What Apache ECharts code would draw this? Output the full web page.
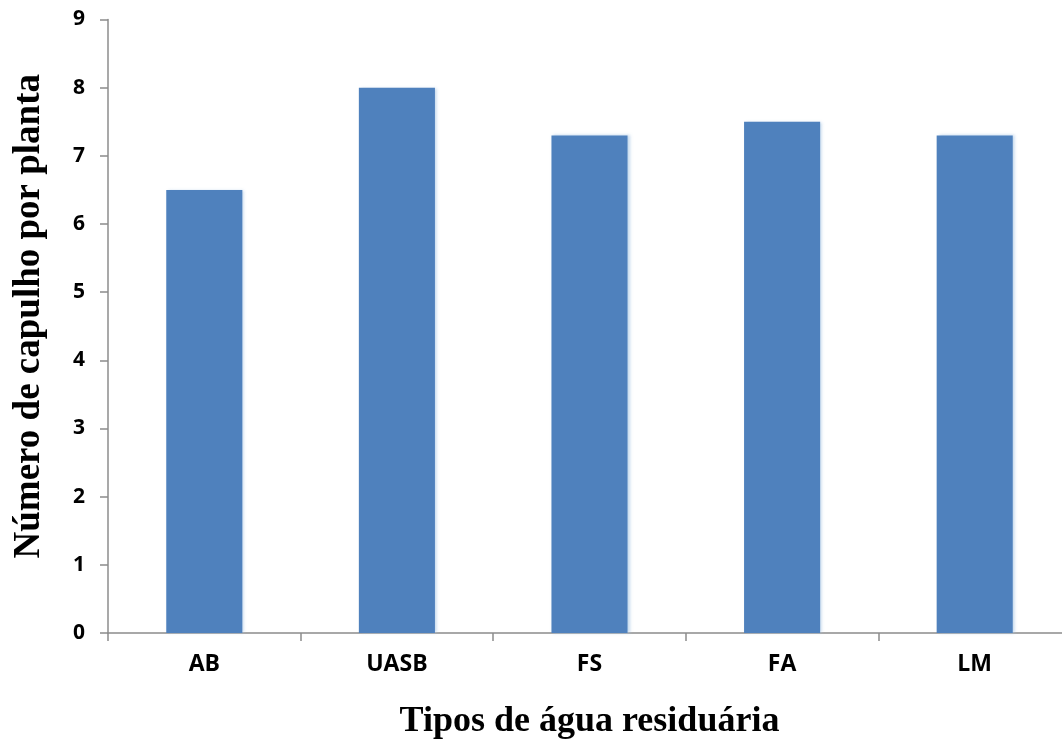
<!DOCTYPE html>
<html>
<head>
<meta charset="utf-8">
<script src="https://cdn.jsdelivr.net/npm/echarts@6/dist/echarts.min.js"></script>
<style>
  html, body { margin: 0; padding: 0; background: #ffffff; }
  #chart { width: 1062px; height: 743px; }
</style>
</head>
<body>
<div id="chart"></div>
<script>
// Tipos de água residuária and bolls per plant
const categories = ['AB', 'UASB', 'FS', 'FA', 'LM'];
const capulhos = [6.5, 8.0, 7.3, 7.5, 7.3];
const yTicks = [0, 1, 2, 3, 4, 5, 6, 7, 8, 9];

const chart = echarts.init(document.getElementById('chart'));
const axisGray = '#8c8c8c';

chart.setOption({
  animation: false,
  backgroundColor: '#ffffff',
  grid: { left: 108, right: -9, top: 19.5, bottom: 110, outerBoundsMode: 'none', containLabel: false },
  xAxis: {
    type: 'category',
    data: categories,
    name: 'Tipos de água residuária',
    nameLocation: 'middle',
    nameGap: 71,
    nameTextStyle: { fontFamily: 'Liberation Serif', fontWeight: 'bold', fontSize: 36, color: '#000' },
    axisLine: { lineStyle: { color: axisGray, width: 1.5 } },
    axisTick: { show: true, alignWithLabel: false, length: 8, lineStyle: { color: axisGray, width: 1.5 } },
    axisLabel: { fontFamily: 'Open Sans', fontWeight: 'bold', fontSize: 23, color: '#000', margin: 20 }
  },
  yAxis: {
    type: 'value',
    min: yTicks[0],
    max: yTicks[yTicks.length - 1],
    interval: 1,
    name: 'Número de capulho por planta',
    nameLocation: 'middle',
    nameGap: 60,
    nameTextStyle: { fontFamily: 'Liberation Serif', fontWeight: 'bold', fontSize: 37, color: '#000', padding: [0, 0, 0, 20] },
    axisLine: { show: true, lineStyle: { color: axisGray, width: 1.5 } },
    axisTick: { show: true, length: 8, lineStyle: { color: axisGray, width: 1.5 } },
    splitLine: { show: false },
    axisLabel: { fontFamily: 'Open Sans', fontWeight: 'bold', fontSize: 21, color: '#000', margin: 23 }
  },
  series: [{
    type: 'bar',
    data: capulhos,
    barWidth: '39.5%',
    itemStyle: {
      color: '#4f81bd',
      shadowColor: 'rgba(170,200,230,0.7)',
      shadowBlur: 3,
      shadowOffsetX: 2,
      shadowOffsetY: 0
    }
  }]
});
</script>
</body>
</html>
